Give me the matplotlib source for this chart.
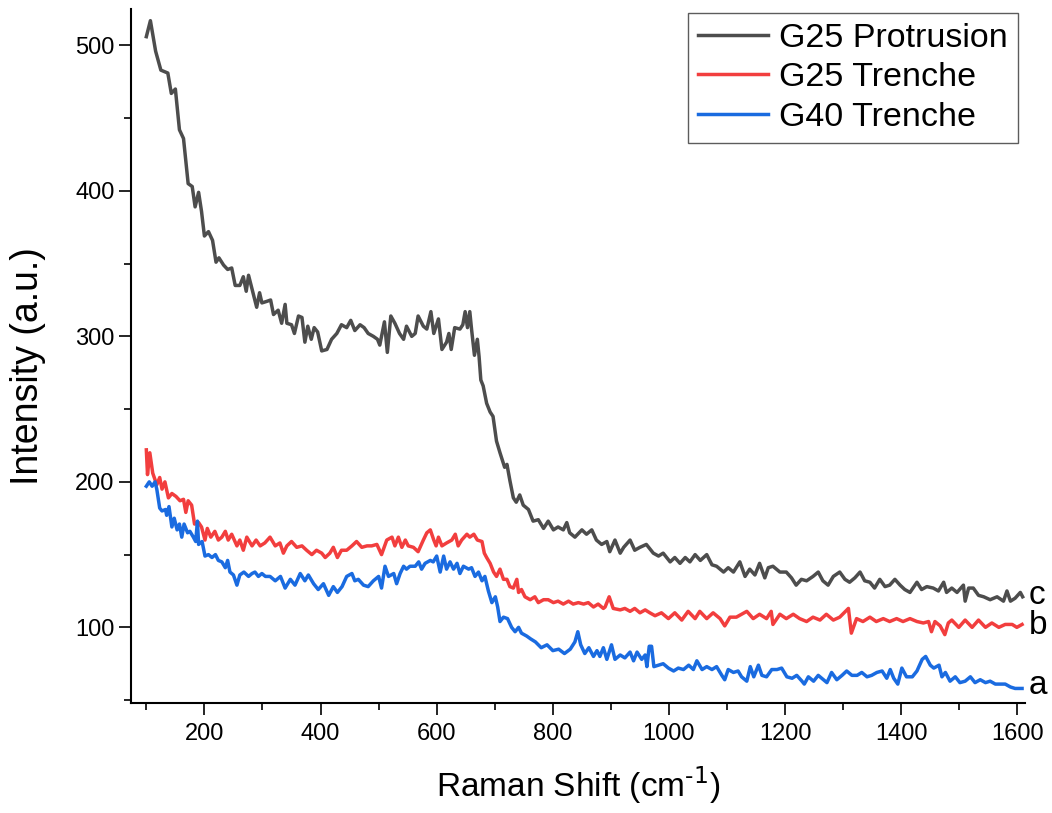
import numpy as np
import matplotlib
matplotlib.use("Agg")
import matplotlib.pyplot as plt

x_prot = [100, 107, 116, 125, 137, 143, 150, 157, 164, 172, 179, 184, 190, 195, 200, 207, 214, 220, 225, 233,
          240, 247, 253, 261, 267, 272, 276, 283, 290, 295, 299, 307, 314, 319, 327, 333, 339, 342, 350, 355,
          362, 368, 373, 378, 384, 389, 395, 402, 411, 419, 428, 436, 445, 452, 459, 468, 475, 482, 491, 498,
          502, 510, 515, 521, 528, 536, 543, 548, 557, 563, 568, 577, 583, 590, 595, 603, 609, 617, 621, 625,
          631, 640, 645, 649, 653, 657, 660, 665, 670, 673, 676, 680, 686, 692, 697, 703, 709, 717, 721, 726,
          732, 737, 743, 749, 758, 766, 775, 784, 792, 801, 809, 818, 824, 829, 838, 850, 858, 867, 875, 884,
          893, 898, 907, 916, 922, 933, 941, 950, 961, 973, 982, 990, 1002, 1010, 1019, 1028, 1036, 1045, 1054, 1065,
          1074, 1082, 1094, 1102, 1111, 1122, 1131, 1139, 1148, 1156, 1165, 1171, 1179, 1191, 1202, 1211, 1219, 1228, 1237, 1248,
          1257, 1265, 1274, 1283, 1294, 1303, 1311, 1320, 1329, 1337, 1346, 1354, 1363, 1372, 1380, 1389, 1398, 1406, 1415, 1427,
          1435, 1444, 1455, 1464, 1473, 1478, 1487, 1496, 1507, 1510, 1516, 1524, 1533, 1542, 1553, 1565, 1576, 1582, 1588, 1596,
          1605, 1609]
y_prot = [506, 517, 496, 483, 481, 467, 470, 442, 436, 405, 403, 389, 399, 386, 369, 372, 366, 351, 354, 349,
          346, 347, 335, 335, 341, 331, 342, 331, 320, 330, 323, 324, 325, 315, 318, 309, 322, 309, 308, 302,
          314, 313, 296, 307, 298, 306, 303, 290, 291, 298, 302, 308, 306, 311, 304, 308, 306, 302, 300, 298,
          294, 310, 289, 314, 309, 302, 298, 307, 300, 302, 314, 307, 305, 317, 302, 312, 291, 296, 302, 291,
          306, 305, 308, 317, 306, 317, 305, 287, 298, 286, 270, 266, 254, 248, 245, 228, 220, 210, 212, 201,
          189, 186, 191, 184, 181, 173, 174, 168, 173, 167, 169, 167, 172, 165, 162, 167, 164, 167, 160, 157,
          159, 152, 160, 151, 155, 160, 153, 155, 157, 151, 149, 151, 145, 148, 144, 148, 145, 150, 146, 150,
          143, 142, 138, 141, 138, 145, 135, 140, 136, 144, 134, 141, 142, 138, 138, 134, 129, 133, 132, 135,
          138, 132, 129, 135, 138, 133, 131, 134, 138, 132, 131, 127, 133, 128, 129, 133, 129, 126, 124, 131,
          126, 128, 127, 125, 131, 124, 127, 124, 129, 118, 127, 127, 122, 121, 119, 121, 118, 125, 118, 120,
          124, 121]

x_tr25 = [100, 102, 106, 111, 118, 123, 127, 132, 138, 144, 151, 158, 164, 168, 172, 178, 183, 190, 195, 201,
          205, 211, 218, 224, 230, 236, 241, 247, 256, 261, 267, 273, 282, 289, 296, 304, 313, 322, 330, 336,
          342, 350, 359, 368, 376, 385, 393, 402, 408, 416, 422, 429, 436, 445, 454, 462, 471, 480, 488, 497,
          505, 514, 523, 528, 534, 540, 546, 551, 560, 568, 577, 583, 589, 595, 599, 603, 609, 617, 626, 632,
          637, 643, 652, 657, 664, 670, 678, 682, 686, 692, 698, 703, 709, 715, 721, 726, 732, 738, 741, 746,
          752, 761, 769, 775, 784, 792, 801, 809, 818, 827, 835, 844, 853, 861, 870, 878, 887, 890, 897, 904,
          916, 924, 933, 941, 950, 959, 967, 976, 987, 999, 1010, 1022, 1033, 1045, 1053, 1065, 1076, 1088, 1096, 1105,
          1116, 1134, 1145, 1156, 1168, 1176, 1179, 1191, 1202, 1214, 1225, 1237, 1248, 1260, 1271, 1283, 1294, 1309, 1314, 1323,
          1334, 1346, 1357, 1369, 1380, 1392, 1403, 1415, 1427, 1438, 1447, 1452, 1458, 1467, 1475, 1481, 1487, 1499, 1510, 1522,
          1533, 1545, 1556, 1568, 1579, 1591, 1599, 1608]
y_tr25 = [222, 205, 220, 206, 198, 203, 195, 200, 189, 192, 190, 187, 188, 179, 187, 184, 171, 172, 169, 160,
          168, 162, 166, 160, 162, 166, 160, 164, 156, 160, 153, 162, 156, 160, 156, 158, 162, 156, 158, 151,
          156, 159, 155, 156, 153, 150, 153, 151, 148, 151, 155, 148, 153, 153, 156, 159, 155, 156, 156, 157,
          150, 160, 162, 156, 162, 155, 160, 156, 155, 152, 160, 165, 167, 160, 156, 162, 156, 158, 160, 164,
          156, 160, 164, 162, 164, 160, 159, 151, 148, 144, 138, 135, 140, 133, 133, 128, 127, 133, 124, 126,
          121, 119, 121, 117, 119, 119, 117, 118, 116, 118, 116, 117, 116, 117, 114, 116, 113, 114, 121, 113,
          112, 113, 111, 113, 110, 112, 110, 108, 110, 106, 110, 105, 111, 106, 111, 106, 110, 106, 101, 107,
          107, 111, 106, 109, 106, 111, 102, 109, 106, 109, 106, 104, 107, 105, 109, 105, 107, 113, 96, 106,
          104, 107, 104, 106, 104, 106, 104, 106, 104, 103, 104, 97, 104, 101, 95, 103, 105, 100, 105, 100,
          105, 100, 103, 100, 102, 102, 100, 102]

x_tr40 = [100, 105, 110, 115, 118, 123, 127, 133, 135, 139, 144, 148, 153, 157, 161, 165, 171, 175, 181, 185,
          188, 190, 196, 201, 207, 213, 219, 224, 230, 236, 240, 244, 250, 256, 261, 268, 276, 282, 287, 293,
          299, 305, 313, 322, 331, 339, 348, 356, 365, 373, 379, 388, 396, 405, 414, 422, 429, 437, 445, 454,
          459, 465, 474, 482, 491, 500, 505, 511, 517, 526, 531, 537, 543, 548, 554, 563, 569, 574, 580, 589,
          594, 600, 606, 612, 617, 623, 629, 635, 640, 646, 655, 660, 666, 672, 678, 683, 689, 695, 701, 705,
          709, 715, 722, 729, 735, 741, 746, 755, 762, 770, 780, 790, 800, 810, 820, 830, 838, 843, 848, 855,
          862, 870, 876, 881, 887, 893, 901, 907, 916, 924, 933, 939, 945, 953, 959, 962, 966, 970, 974, 982,
          990, 999, 1008, 1016, 1025, 1034, 1042, 1048, 1057, 1065, 1074, 1082, 1091, 1096, 1102, 1111, 1119, 1125, 1134, 1140,
          1146, 1154, 1160, 1168, 1177, 1186, 1194, 1203, 1212, 1220, 1229, 1233, 1240, 1249, 1257, 1266, 1272, 1280, 1289, 1298,
          1306, 1315, 1324, 1332, 1341, 1349, 1358, 1367, 1375, 1381, 1387, 1394, 1401, 1409, 1419, 1427, 1436, 1442, 1450, 1456,
          1465, 1470, 1476, 1484, 1493, 1501, 1510, 1519, 1527, 1536, 1545, 1553, 1562, 1570, 1579, 1588, 1596, 1608]
y_tr40 = [197, 200, 197, 200, 195, 182, 180, 181, 177, 183, 169, 175, 167, 171, 162, 171, 165, 166, 162, 159,
          173, 157, 159, 149, 150, 148, 150, 146, 145, 141, 146, 138, 136, 129, 136, 138, 135, 137, 138, 135,
          137, 135, 135, 132, 135, 127, 133, 129, 137, 132, 136, 130, 126, 130, 122, 128, 124, 128, 135, 137,
          132, 133, 129, 128, 132, 135, 127, 142, 135, 137, 130, 137, 142, 140, 142, 142, 145, 140, 144, 146,
          145, 149, 138, 149, 140, 145, 140, 144, 137, 142, 140, 141, 135, 138, 132, 135, 125, 117, 121, 114,
          104, 107, 106, 100, 97, 100, 96, 94, 92, 90, 86, 88, 84, 85, 82, 85, 90, 97, 88, 82,
          86, 80, 84, 80, 86, 78, 88, 78, 81, 79, 83, 77, 83, 78, 81, 73, 87, 87, 73, 74,
          75, 72, 70, 72, 71, 74, 71, 77, 71, 73, 71, 73, 67, 64, 71, 69, 70, 66, 63, 73,
          66, 74, 67, 66, 71, 71, 72, 66, 65, 67, 63, 61, 66, 63, 67, 64, 62, 69, 64, 67,
          70, 67, 67, 69, 66, 67, 69, 70, 65, 71, 65, 61, 72, 66, 66, 70, 78, 80, 74, 72,
          74, 66, 69, 63, 66, 62, 63, 66, 62, 64, 62, 63, 61, 61, 61, 59, 58, 58]

series = ["G25 Protrusion", "G25 Trenche", "G40 Trenche"]
colores = ["#4D4D4D", "#F23E3E", "#1A6BE0"]
etiquetas = ["c", "b", "a"]
pos_etiquetas = [122, 101, 60]

plt.rcParams['font.family'] = ['Liberation Sans', 'DejaVu Sans']

fig = plt.figure(figsize=(10.52, 8.13), dpi=100)
ax = fig.add_axes([0.1242, 0.1353, 0.8501, 0.8536])

datos = [(x_prot, y_prot), (x_tr25, y_tr25), (x_tr40, y_tr40)]
for (xs, ys), nombre, col in zip(datos, series, colores):
    ax.plot(np.array(xs), np.array(ys), color=col, lw=2.5, label=nombre)

# letras a la derecha de cada curva
for letra, yv in zip(etiquetas, pos_etiquetas):
    ax.text(1619, yv, letra, fontsize=24, ha='left', va='center', clip_on=False)

ax.set_xlim(73, 1613)
ax.set_ylim(48, 525)
ax.set_xticks(np.arange(200, 1601, 200))
ax.set_xticks(np.arange(100, 1601, 200), minor=True)
ax.set_yticks(np.arange(100, 501, 100))
ax.set_yticks(np.arange(50, 501, 100), minor=True)

for lado in ['top', 'right']:
    ax.spines[lado].set_visible(False)
for lado in ['left', 'bottom']:
    ax.spines[lado].set_linewidth(1.5)

ax.tick_params(which='major', direction='out', length=8.5, width=1.2, labelsize=17)
ax.tick_params(which='minor', direction='out', length=5, width=1.2)
ax.tick_params(axis='x', which='major', pad=6)
ax.tick_params(axis='y', which='major', pad=3)

ax.set_xlabel("Raman Shift (cm$^{\\text{-1}}$)", fontsize=24, labelpad=14)
ax.set_ylabel("Intensity (a.u.)", fontsize=27)
ax.yaxis.set_label_coords(-0.095, 0.486)

leg = ax.legend(loc='upper right', bbox_to_anchor=(0.9674, 0.9844), bbox_transform=fig.transFigure,
                fontsize=24.5, frameon=True, fancybox=False, borderaxespad=0, handlelength=2.05,
                handletextpad=0.32, labelspacing=0.25, borderpad=0.3)
leg.get_frame().set_edgecolor('#333333')
leg.get_frame().set_linewidth(1.0)

fig.savefig("out.png", dpi=100)
